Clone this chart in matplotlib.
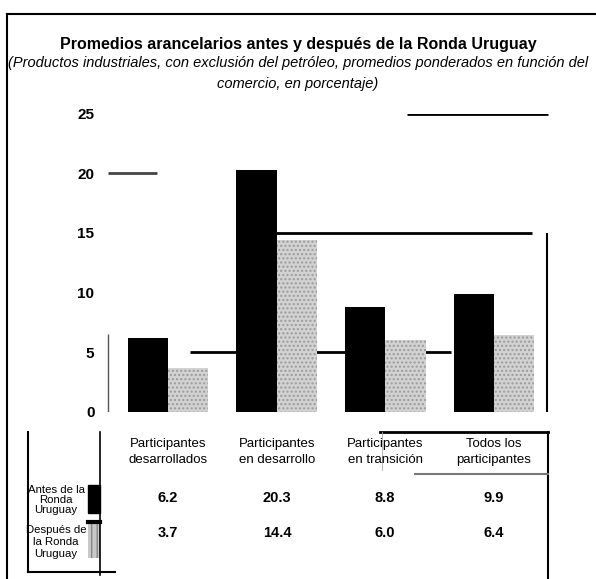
import numpy as np
import matplotlib.pyplot as plt
from matplotlib.lines import Line2D
from matplotlib.patches import Rectangle

plt.rcParams['font.family'] = ['Liberation Sans', 'DejaVu Sans']

# data
groups = ['Participantes\ndesarrollados', 'Participantes\nen desarrollo',
          'Participantes\nen transición', 'Todos los\nparticipantes']
antes = [6.2, 20.3, 8.8, 9.9]
despues = [3.7, 14.4, 6.0, 6.4]
antes_txt = ['6.2', '20.3', '8.8', '9.9']
despues_txt = ['3.7', '14.4', '6.0', '6.4']
yticks = [0, 5, 10, 15, 20, 25]

W, H = 596, 579
fig = plt.figure(figsize=(W / 100, H / 100), dpi=100)


def fx(px):
    return px / W


def fy(py):
    return 1 - py / H


def hline(y, x0, x1, lw=1.2, c='black'):
    fig.add_artist(Line2D([fx(x0), fx(x1)], [fy(y), fy(y)], lw=lw, color=c))


def vline(x, y0, y1, lw=1.2, c='black'):
    fig.add_artist(Line2D([fx(x), fx(x)], [fy(y0), fy(y1)], lw=lw, color=c))


# outer frame (top and left only, the rest is cut off)
hline(14, 7, 596, lw=1.5)
vline(7, 14, 579, lw=1.5)

# titles
fig.text(0.5, fy(44), 'Promedios arancelarios antes y después de la Ronda Uruguay',
         ha='center', va='center', fontsize=11.5, fontweight='bold')
fig.text(0.5, fy(63), '(Productos industriales, con exclusión del petróleo, promedios ponderados en función del',
         ha='center', va='center', fontsize=10.5, style='italic')
fig.text(0.5, fy(84), 'comercio, en porcentaje)',
         ha='center', va='center', fontsize=10.5, style='italic')

# bar axes
left, right, bottom, top = 100, 553, 411.7, 113.7
ax = fig.add_axes([fx(left), fy(bottom), fx(right - left), (bottom - top) / H])
x = np.arange(len(groups))
w = 0.37
ax.bar(x - w / 2, antes, w, color='black', zorder=3)
ax.bar(x + w / 2, despues, w, color='#d2d2d2', hatch='....', edgecolor='#9a9a9a',
       linewidth=0, zorder=3)
ax.set_xlim(-0.626, 3.543)
ax.set_ylim(0, 25)
ax.set_yticks(yticks)
ax.set_yticklabels([str(t) for t in yticks], fontsize=11, fontweight='bold')
ax.tick_params(axis='y', length=0, pad=4)
ax.set_xticks([])
for s in ax.spines.values():
    s.set_visible(False)

# remains of the gridlines in the scan
ax.hlines(25, 2.2, 3.5, color='black', lw=2, zorder=1)
ax.hlines(20, -0.55, -0.1, color='#444444', lw=2, zorder=1)
ax.hlines(15, 0.8, 3.35, color='black', lw=2, zorder=1)
ax.hlines(5, 0.2, 2.6, color='black', lw=2, zorder=1)
ax.vlines(3.49, 0, 15, color='black', lw=1.5, zorder=1)
ax.vlines(-0.55, 0, 6.5, color='#555555', lw=1, zorder=1)

# table under the chart
centers = [168, 277, 385, 494]
for c, g in zip(centers, groups):
    fig.text(fx(c), fy(452), g, ha='center', va='center', fontsize=9.5,
             linespacing=1.5)
for c, a, d in zip(centers, antes_txt, despues_txt):
    fig.text(fx(c), fy(498), a, ha='center', va='center', fontsize=10.5, fontweight='bold')
    fig.text(fx(c), fy(533), d, ha='center', va='center', fontsize=10.5, fontweight='bold')

fig.text(fx(56), fy(500), 'Antes de la\nRonda\nUruguay', ha='center', va='center',
         fontsize=8.2, linespacing=1.0)
fig.text(fx(56), fy(542), 'Después de\nla Ronda\nUruguay', ha='center', va='center',
         fontsize=8.2, linespacing=1.2)

# legend swatches
fig.add_artist(Rectangle((fx(88), fy(513)), fx(12), (513 - 485) / H, color='black'))
fig.add_artist(Rectangle((fx(88), fy(558)), fx(12), (558 - 522) / H,
                         facecolor='#c8c8c8', hatch='|||', edgecolor='#888888', lw=0))
hline(522, 88, 100, lw=3)

vline(28, 432, 572, lw=1.5)
hline(572, 28, 115, lw=1.5)
vline(100, 432, 575, lw=1.2)
vline(548, 432, 579, lw=1.5)
hline(432, 380, 548, lw=2)
vline(382, 432, 470, lw=0.6, c='#aaaaaa')
hline(474, 415, 548, lw=1.5, c='#777777')

fig.savefig('out.png', dpi=100)
